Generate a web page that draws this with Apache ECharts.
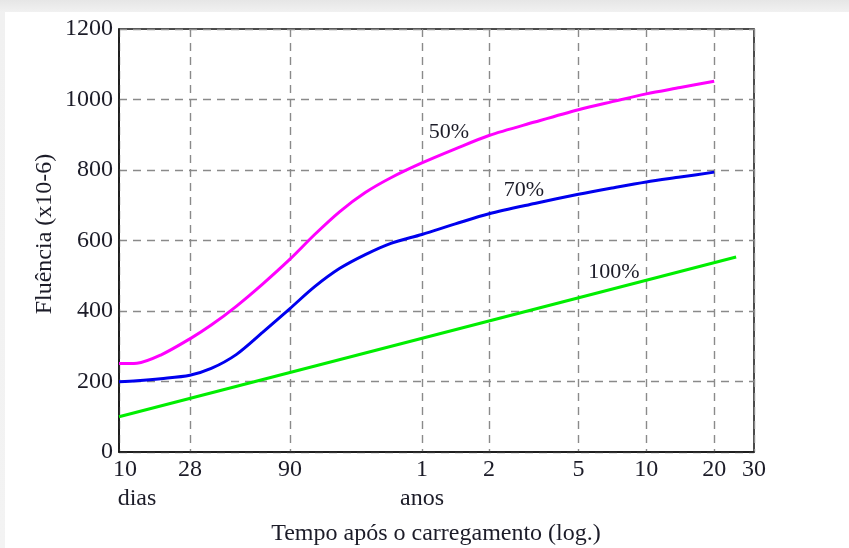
<!DOCTYPE html>
<html>
<head>
<meta charset="utf-8">
<script src="https://cdn.jsdelivr.net/npm/echarts@6/dist/echarts.min.js"></script>
<style>
  html, body { margin: 0; padding: 0; width: 849px; height: 548px; overflow: hidden; }
  body { background: linear-gradient(to bottom, #e6e6e6 0px, #f1f1f1 12px, #f3f3f3 100%); position: relative; }
  #sheet { position: absolute; left: 5px; top: 12px; right: 0; bottom: 0; background: #ffffff; }
  #chart { position: absolute; left: 0; top: 0; width: 849px; height: 548px; }
</style>
</head>
<body>
<div id="sheet"></div>
<div id="chart"></div>
<script>
// Time after loading, in days (x) and creep strain, x10^-6 (y)
const tickDays   = [10, 28, 90, 365, 730, 1825, 3650, 7300, 10950];
const tickLabels = ['10', '28', '90', '1', '2', '5', '10', '20', '30'];

const days = [10, 13.4, 19, 28, 36.5, 49.3, 66.6, 90, 117.8, 154.2, 201.9, 264.2, 365, 516, 730, 1166, 1825, 2581, 3650, 5162, 7300];
const creep50 = [251, 252, 275, 321, 360, 414, 477, 547, 617, 682, 736, 778, 820, 860, 898, 936, 971, 994, 1016, 1034, 1052];
const creep70 = [199, 202, 208, 218, 237, 277, 340, 407, 469, 521, 560, 592, 617, 647, 676, 705, 731, 749, 766, 780, 794];

const days100 = [10, 9125];
const creep100 = [100, 553];

// Log time scale (days, with a small offset so the first days are not stretched)
const OFFSET = 7;
const logT = d => Math.log10(d + OFFSET);
const pairs = (xs, ys) => xs.map((d, i) => [logT(d), ys[i]]);

const tickPos = tickDays.map(logT);
const labelFor = v => {
  let best = 0;
  tickPos.forEach((p, i) => { if (Math.abs(p - v) < Math.abs(tickPos[best] - v)) best = i; });
  // the first label sits just right of the axis corner
  return best === 0 ? '{first|' + tickLabels[best] + '}' : tickLabels[best];
};

const serif = '"Liberation Serif", "DejaVu Serif", serif';
const ink = '#1c1c28';
const gridLine = { show: true, lineStyle: { color: '#8a8a8a', width: 1.4, type: [8, 6] } };

const chart = echarts.init(document.getElementById('chart'), null, { renderer: 'canvas' });
chart.setOption({
  backgroundColor: 'transparent',
  animation: false,
  grid: { left: 119, right: 95, top: 29, bottom: 96, show: true, borderColor: '#111', borderWidth: 1.5, backgroundColor: 'transparent' },
  xAxis: {
    type: 'value',
    min: logT(tickDays[0]),
    max: logT(tickDays[tickDays.length - 1]),
    axisLine: { show: true, lineStyle: { color: '#111', width: 1.5 } },
    axisTick: { show: false, customValues: tickPos },
    axisLabel: {
      customValues: tickPos,
      formatter: v => labelFor(v),
      fontFamily: serif, fontSize: 24, color: ink, margin: 6,
      rich: { first: { fontFamily: serif, fontSize: 24, color: ink, padding: [0, 0, 0, 12] } }
    },
    splitLine: gridLine
  },
  yAxis: {
    type: 'value',
    min: 0, max: 1200, interval: 200,
    axisLine: { show: true, lineStyle: { color: '#111', width: 1.5 } },
    axisTick: { show: false },
    axisLabel: { formatter: v => String(v), fontFamily: serif, fontSize: 24, color: ink, margin: 6 },
    splitLine: gridLine
  },
  series: [
    { name: '50%', type: 'line', data: pairs(days, creep50), smooth: 0.3, symbol: 'none',
      lineStyle: { color: '#ff00ff', width: 3 }, z: 3 },
    { name: '70%', type: 'line', data: pairs(days, creep70), smooth: 0.3, symbol: 'none',
      lineStyle: { color: '#0000ee', width: 3 }, z: 3 },
    { name: '100%', type: 'line', data: pairs(days100, creep100), symbol: 'none',
      lineStyle: { color: '#00ee00', width: 3 }, z: 3 }
  ],
  graphic: [
    { type: 'text', x: 137, y: 499, style: { text: 'dias', font: '24px ' + serif, fill: ink, align: 'center', verticalAlign: 'middle' } },
    { type: 'text', x: 422, y: 499, style: { text: 'anos', font: '24px ' + serif, fill: ink, align: 'center', verticalAlign: 'middle' } },
    { type: 'text', x: 436, y: 534, style: { text: 'Tempo após o carregamento (log.)', font: '24px ' + serif, fill: ink, align: 'center', verticalAlign: 'middle' } },
    { type: 'text', x: 45, y: 234, rotation: Math.PI / 2, style: { text: 'Fluência (x10-6)', font: '24px ' + serif, fill: ink, align: 'center', verticalAlign: 'middle' } },
    { type: 'text', x: 449, y: 132, style: { text: '50%', font: '22px ' + serif, fill: ink, align: 'center', verticalAlign: 'middle' } },
    { type: 'text', x: 524, y: 190, style: { text: '70%', font: '22px ' + serif, fill: ink, align: 'center', verticalAlign: 'middle' } },
    { type: 'text', x: 614, y: 272, style: { text: '100%', font: '22px ' + serif, fill: ink, align: 'center', verticalAlign: 'middle' } }
  ]
});
</script>
</body>
</html>
